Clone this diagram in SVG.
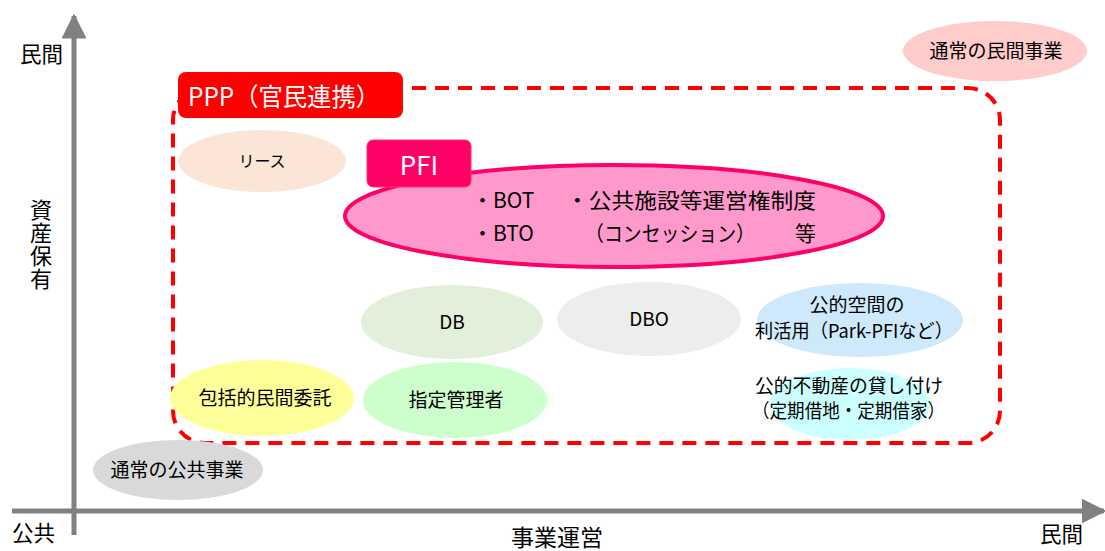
<svg xmlns="http://www.w3.org/2000/svg" width="1105" height="551" viewBox="0 0 1105 551">
<style>
text{font-family:"Noto Sans CJK JP","Noto Sans",sans-serif;fill:#000}
.n{font-size:19px;text-anchor:middle}
.ax{font-size:21.5px}
.p{font-size:21px}
.w{fill:#fff}
</style>
<defs>
<marker id="ah" viewBox="0 0 10 10" refX="9" refY="5" markerWidth="5" markerHeight="5" orient="auto" markerUnits="strokeWidth">
<path d="M0,0 L10,5 L0,10 z" fill="#808080"/>
</marker>
</defs>
<rect width="1105" height="551" fill="#fff"/>
<g id="connectors">
<line x1="74" y1="535" x2="74" y2="16" stroke="#808080" stroke-width="5" marker-end="url(#ah)"/>
<line x1="12" y1="511" x2="1104" y2="511" stroke="#808080" stroke-width="5" marker-end="url(#ah)"/>
</g>
<g id="axis-labels">
<text class="ax" x="20" y="62">民間</text>
<text class="ax" x="12" y="541">公共</text>
<text class="ax" x="1040" y="542">民間</text>
<text x="557" y="546" font-size="23" text-anchor="middle">事業運営</text>
<text x="41" y="199" font-size="22" writing-mode="vertical-rl" letter-spacing="1">資産保有</text>
</g>
<g id="ppp">
<rect x="173" y="88" width="827" height="355" rx="32" fill="none" stroke="#ff0000" stroke-width="4" stroke-dasharray="14,9"/>
<rect x="178" y="72" width="225" height="46" rx="8" fill="#ff0000"/>
<text class="w" x="188" y="106" font-size="25" textLength="192" lengthAdjust="spacingAndGlyphs">PPP（官民連携）</text>
</g>
<g id="lease">
<ellipse cx="262" cy="161" rx="84" ry="31" fill="#fbe5d6"/>
<text x="262" y="167" font-size="16" text-anchor="middle">リース</text>
</g>
<g id="pfi">
<ellipse cx="614" cy="216" rx="269" ry="51" fill="#ff99cc" stroke="#ff0066" stroke-width="4"/>
<rect x="367" y="140" width="104" height="47" rx="6" fill="#ff0066" stroke="#ff3366" stroke-width="1"/>
<text class="w" x="419" y="175" font-size="26" text-anchor="middle">PFI</text>
<text class="p" x="472" y="208">・BOT</text>
<text class="p" x="566" y="208" textLength="250" lengthAdjust="spacingAndGlyphs">・公共施設等運営権制度</text>
<text class="p" x="472" y="241">・BTO</text>
<text class="p" x="585" y="241" textLength="170" lengthAdjust="spacingAndGlyphs">（コンセッション）</text>
<text class="p" x="795" y="241">等</text>
</g>
<g id="db">
<ellipse cx="452" cy="322" rx="91" ry="37" fill="#e2efda"/>
<text class="n" x="452" y="329">DB</text>
</g>
<g id="dbo">
<ellipse cx="649" cy="319" rx="92" ry="37" fill="#ededed"/>
<text class="n" x="649" y="326">DBO</text>
</g>
<g id="public-space">
<ellipse cx="860" cy="320" rx="103" ry="37" fill="#cde9fb"/>
<text class="n" x="857" y="312">公的空間の</text>
<text x="755" y="338" font-size="19" textLength="198" lengthAdjust="spacingAndGlyphs">利活用（Park-PFIなど）</text>
</g>
<g id="comprehensive">
<ellipse cx="262" cy="398" rx="92" ry="38" fill="#ffff99"/>
<text class="n" x="265" y="405">包括的民間委託</text>
</g>
<g id="designated">
<ellipse cx="455" cy="400" rx="92" ry="38" fill="#ccffcc"/>
<text class="n" x="456" y="407">指定管理者</text>
</g>
<g id="real-estate">
<ellipse cx="850" cy="404" rx="80" ry="36" fill="#ccffff"/>
<text x="755" y="393" font-size="19" textLength="188" lengthAdjust="spacingAndGlyphs">公的不動産の貸し付け</text>
<text x="752" y="418" font-size="19" textLength="193" lengthAdjust="spacingAndGlyphs">（定期借地・定期借家）</text>
</g>
<g id="public-business">
<ellipse cx="178" cy="470" rx="85" ry="30" fill="#d9d9d9"/>
<text class="n" x="177" y="477">通常の公共事業</text>
</g>
<g id="private-business">
<ellipse cx="995" cy="51" rx="92" ry="30" fill="#ffcccc"/>
<text class="n" x="996" y="58">通常の民間事業</text>
</g>
</svg>
